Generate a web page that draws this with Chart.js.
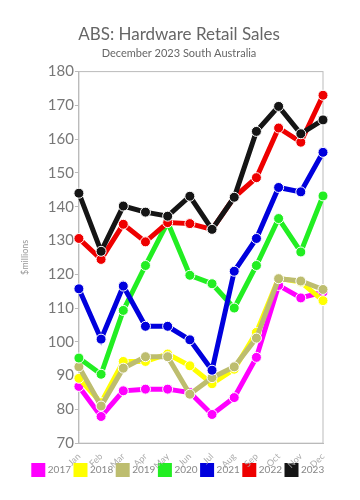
<!DOCTYPE html>
<html>
<head>
<meta charset="utf-8">
<script src="https://cdn.jsdelivr.net/npm/chart.js@4"></script>
<style>
  html, body { margin: 0; padding: 0; background: #fff; }
  #wrap { width: 360px; height: 500px; }
</style>
</head>
<body>
<div id="wrap"><canvas id="myChart"></canvas></div>
<script>
const months = ["Jan", "Feb", "Mar", "Apr", "May", "Jun", "Jul", "Aug", "Sep", "Oct", "Nov", "Dec"];
const years = ["2017", "2018", "2019", "2020", "2021", "2022", "2023"];
const colors = ["#ff00ff", "#ffff00", "#bdbd6f", "#22ee22", "#0000dd", "#ee0000", "#151515"];

const sales2017 = [86.8, 77.9, 85.5, 86.0, 86.0, 85.0, 78.5, 83.5, 95.4, 116.7, 113.0, 114.7];
const sales2018 = [89.2, 82.0, 94.2, 94.2, 96.4, 92.9, 87.6, 91.9, 102.8, 118.8, 117.7, 112.2];
const sales2019 = [92.6, 81.0, 92.2, 95.6, 95.6, 84.5, 89.4, 92.6, 101.1, 118.7, 118.0, 115.5];
const sales2020 = [95.2, 90.4, 109.3, 122.6, 135.4, 119.7, 117.2, 110.0, 122.6, 136.5, 126.6, 143.2];
const sales2021 = [115.7, 100.8, 116.5, 104.6, 104.6, 100.6, 91.6, 120.9, 130.6, 145.7, 144.4, 156.1];
const sales2022 = [130.6, 124.4, 134.8, 129.6, 135.3, 135.0, 133.3, 142.8, 148.6, 163.3, 159.1, 173.0];
const sales2023 = [144.0, 126.8, 140.2, 138.4, 137.2, 143.1, 133.3, 142.8, 162.3, 169.7, 161.6, 165.7];

const allSales = [sales2017, sales2018, sales2019, sales2020, sales2021, sales2022, sales2023];

// draw the box around the plot area
const frame = {
    id: 'frame',
    beforeDatasetsDraw(chart) {
        const a = chart.chartArea;
        const c = chart.ctx;
        c.save();
        c.strokeStyle = '#bbbbbb';
        c.lineWidth = 1;
        c.strokeRect(a.left, a.top, a.right - a.left, a.bottom - a.top);
        c.restore();
    }
};

const ctx = document.getElementById("myChart");

const myChart = new Chart(ctx, {
    type: 'line',
    data: {
        labels: months,
        datasets: years.map((y, i) => ({
            label: y,
            data: allSales[i],
            borderColor: colors[i],
            backgroundColor: colors[i],
            pointBackgroundColor: colors[i],
            pointBorderColor: '#ffffff',
            pointBorderWidth: 1,
            pointRadius: 5,
            borderWidth: 5,
            tension: 0,
            order: years.length - i
        }))
    },
    options: {
        responsive: true,
        maintainAspectRatio: false,
        animation: false,
        layout: {
            padding: { left: 16, right: 18, top: 24, bottom: 15 }
        },
        scales: {
            x: {
                grid: { display: false },
                border: { color: '#bbbbbb' },
                ticks: {
                    color: '#aaaaaa',
                    font: { family: 'Lato', size: 9 },
                    maxRotation: 45,
                    minRotation: 45,
                    padding: 0
                },
                // rotated labels need less room than Chart.js reserves,
                // and they must not be clipped to the smaller box
                afterFit(scale) {
                    scale.height = scale.height - 11;
                    scale._computeLabelArea = () => undefined;
                }
            },
            y: {
                min: 70,
                max: 180,
                grid: { drawOnChartArea: false, tickLength: 4, color: '#bbbbbb' },
                border: { color: '#bbbbbb' },
                ticks: {
                    stepSize: 10,
                    color: '#777777',
                    font: { family: 'Lato', size: 15 },
                    padding: 1
                },
                title: {
                    display: true,
                    text: '$millions',
                    color: '#999999',
                    font: { family: 'Lato', size: 9 }
                },
                afterFit(scale) { scale.width = scale.width + 12; }
            },
            // empty right axis, only keeps space on the right of the plot
            yRight: {
                position: 'right',
                min: 70,
                max: 180,
                grid: { display: false },
                border: { display: false },
                ticks: { display: false },
                afterFit(scale) { scale.width = 19; }
            }
        },
        plugins: {
            title: {
                display: true,
                text: 'ABS: Hardware Retail Sales',
                color: '#666666',
                font: { family: 'Lato', size: 17, weight: 'normal' },
                padding: { top: 0, bottom: 2 }
            },
            subtitle: {
                display: true,
                text: 'December 2023 South Australia',
                color: '#666666',
                font: { family: 'Lato', size: 11 },
                padding: { bottom: 12 }
            },
            legend: {
                position: 'bottom',
                labels: {
                    color: '#888888',
                    boxWidth: 9,
                    boxHeight: 9,
                    padding: 5,
                    font: { family: 'Lato', size: 10 },
                    sort: (a, b) => a.datasetIndex - b.datasetIndex
                }
            },
            tooltip: { enabled: false }
        }
    },
    plugins: [frame]
});
</script>
</body>
</html>
